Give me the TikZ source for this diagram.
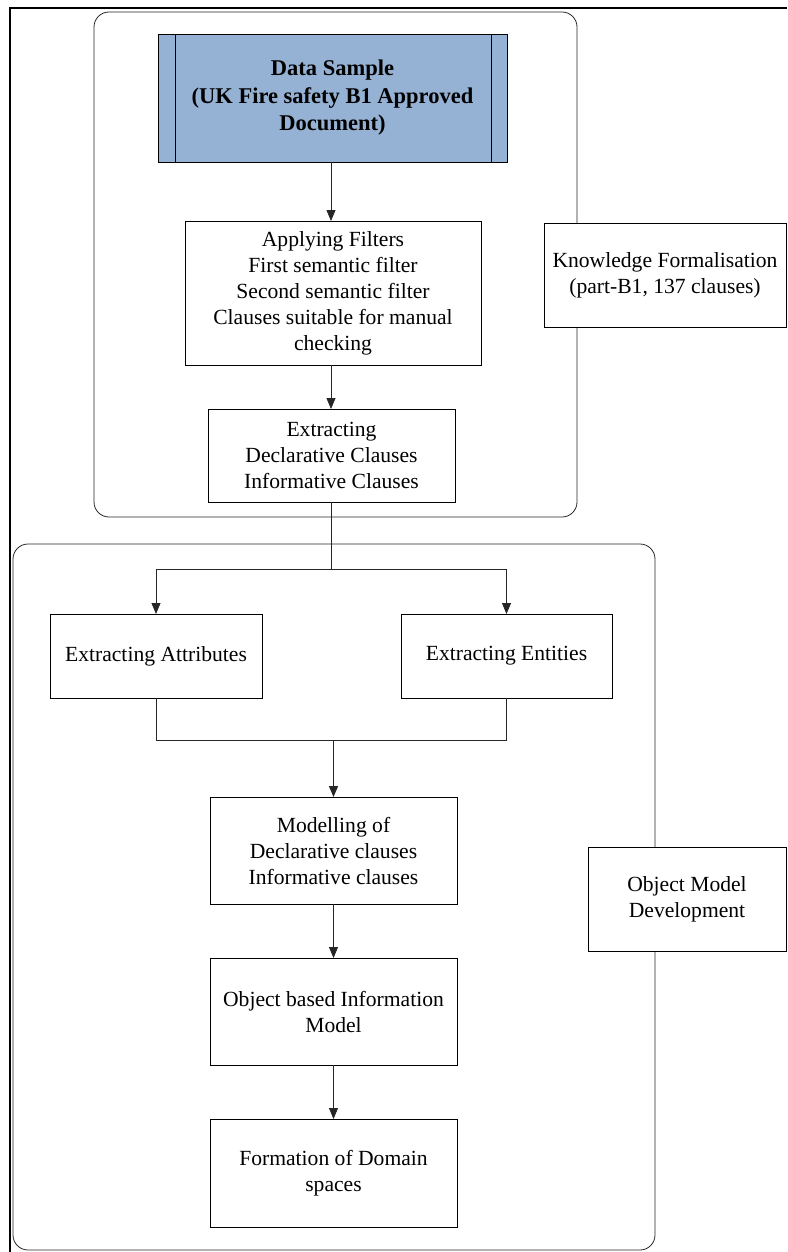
\documentclass[tikz,border=0pt]{standalone}
\usepackage{fontspec}
\setmainfont{Liberation Serif}
\usetikzlibrary{arrows.meta,calc}
\definecolor{dsblue}{HTML}{95B1D3}
\begin{document}
\begin{tikzpicture}[x=1pt,y=-1pt,
  every node/.style={inner sep=0pt, outer sep=0pt},
  procbox/.style={draw=black, line width=0.8pt, fill=white, align=center,
    font=\fontsize{21.6}{26}\selectfont},
  groupbox/.style={draw=black!85, line width=0.8pt, rounded corners=15pt},
  arr/.style={draw=black!85, line width=0.8pt, -{Triangle[length=11pt,width=9pt]}},
  ln/.style={draw=black!85, line width=0.8pt}]
\useasboundingbox (0,0) rectangle (787,1252);
% frame
\draw[line width=1.4pt] (10,1252) -- (10,8) -- (787,8);
% group boxes
\node[groupbox, minimum width=483pt, minimum height=505pt] (g1) at (335.5,264.5) {};
\node[groupbox, minimum width=642pt, minimum height=706pt] (g2) at (334,897) {};
% nodes
\node[procbox, fill=dsblue, minimum width=349pt, minimum height=128pt,
  font=\bfseries\fontsize{22.5}{27.5}\selectfont] (ds) at (332.5,98)
  {Data Sample\\(UK Fire safety B1 Approved\\Document)};
\draw[line width=0.8pt] ($(ds.north west)+(17,0)$) -- ($(ds.south west)+(17,0)$);
\draw[line width=0.8pt] ($(ds.north east)+(-16,0)$) -- ($(ds.south east)+(-16,0)$);
\node[procbox, minimum width=296pt, minimum height=144pt] (filt) at (333,293)
  {Applying Filters\\First semantic filter\\Second semantic filter\\Clauses suitable for manual\\checking};
\node[procbox, minimum width=247pt, minimum height=93pt] (ext) at (331.5,455.5)
  {Extracting\\Declarative Clauses\\Informative Clauses};
\node[procbox, minimum width=242pt, minimum height=104pt] (kf) at (665,275)
  {Knowledge Formalisation\\(part-B1, 137 clauses)};
\node[procbox, minimum width=212pt, minimum height=84pt] (attr) at (156,656)
  {Extracting Attributes};
\node[procbox, minimum width=211pt, minimum height=84pt] (ent) at (506.5,656)
  {Extracting Entities};
\node[procbox, minimum width=247pt, minimum height=107pt] (model) at (333.5,850.5)
  {Modelling of\\Declarative clauses\\Informative clauses};
\node[procbox, minimum width=247pt, minimum height=107pt] (obj) at (333.5,1011.5)
  {Object based Information\\Model};
\node[procbox, minimum width=247pt, minimum height=108pt] (form) at (333.5,1173)
  {Formation of Domain\\spaces};
\node[procbox, minimum width=198pt, minimum height=104pt] (omd) at (687,899)
  {Object Model\\Development};
% connectors
\draw[arr] ([xshift=-1.5pt]ds.south) -- ([xshift=-2pt]filt.north);
\draw[arr] ([xshift=-2pt]filt.south) -- ([xshift=-0.5pt]ext.north);
\coordinate (br) at (331.5,569);
\draw[ln] (ext.south) -- (br);
\draw[arr] (br) -| (attr.north);
\draw[arr] (br) -| (ent.north);
\coordinate (jn) at (333.5,740);
\draw[ln] (attr.south) |- (jn);
\draw[ln] (ent.south) |- (jn);
\draw[arr, line width=1.4pt] (jn) -- (model.north);
\draw[arr] (model.south) -- (obj.north);
\draw[arr] (obj.south) -- (form.north);
\end{tikzpicture}
\end{document}
